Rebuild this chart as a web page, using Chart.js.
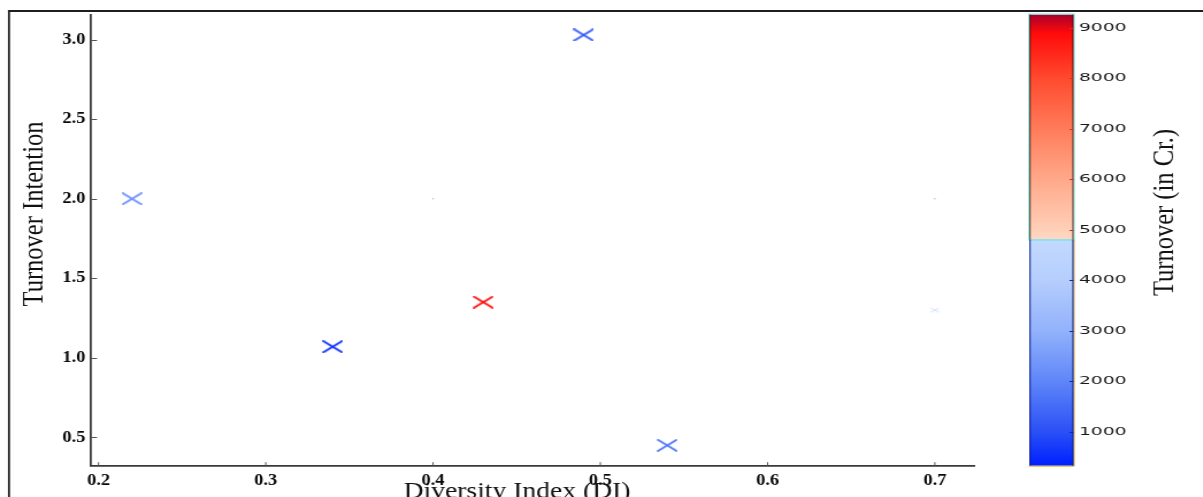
<!DOCTYPE html>
<html>
<head>
<meta charset="utf-8">
<script src="https://cdn.jsdelivr.net/npm/chart.js@4.4.1/dist/chart.umd.min.js"></script>
<style>
  html, body { margin: 0; padding: 0; background: #fff; overflow: hidden; width: 1203px; height: 497px; }
  #wrap { width: 1046px; height: 497px; transform: scaleX(1.15); transform-origin: 0 0; }
  canvas { display: block; }
</style>
</head>
<body>
<div id="wrap"><canvas id="c" width="1046" height="497"></canvas></div>
<script>
// ---- data ----
const diversityIndex    = [0.22, 0.34, 0.43, 0.49, 0.54];
const turnoverIntention = [2.00, 1.07, 1.35, 3.03, 0.45];
const turnoverCr        = [2200, 500, 8900, 1100, 1700];

// faint marker and specks
const faintDI = [0.70];
const faintTI = [1.30];
const faintTurnover = [3800];
const specksDI = [0.40, 0.70];
const specksTI = [2.00, 2.00];

// axis ticks
const xTickValues  = [0.2, 0.3, 0.4, 0.5, 0.6, 0.7];
const yTickValues  = [0.5, 1.0, 1.5, 2.0, 2.5, 3.0];
const cbTickValues = [1000, 2000, 3000, 4000, 5000, 6000, 7000, 8000, 9000];

// colour scale range and the point where it switches from blue to red
const cbMin = 330, cbMax = 9264, cbSplit = 4810;
const colorStops = [
  [330,  '#0020ff'],
  [1000, '#2a50f6'],
  [2000, '#5f86f8'],
  [3000, '#92b2fb'],
  [4000, '#b5cefd'],
  [4810, '#c3daff'],
  [4810, '#ffd8c4'],
  [5000, '#ffd0b8'],
  [6000, '#ffa98a'],
  [7000, '#ff7c5a'],
  [8000, '#ff4a2e'],
  [8900, '#ff0a0a'],
  [9264, '#a8002a']
];

// ---- layout ----
const SX = 1.15;           // horizontal stretch applied to the canvas
const W = 1046, H = 497;
const SERIF = '"Liberation Serif", "Times New Roman", Times, serif';

function hexToRgb(h) {
  const n = parseInt(h.slice(1), 16);
  return [(n >> 16) & 255, (n >> 8) & 255, n & 255];
}
function colorFor(v, alpha) {
  v = Math.max(cbMin, Math.min(cbMax, v));
  const a1 = alpha === undefined ? 1 : alpha;
  for (let i = 0; i < colorStops.length - 1; i++) {
    const [v0, c0] = colorStops[i], [v1, c1] = colorStops[i + 1];
    if (v1 === v0) continue;
    if (v >= v0 && v <= v1) {
      const t = (v - v0) / (v1 - v0);
      const a = hexToRgb(c0), b = hexToRgb(c1);
      const m = a.map((x, k) => Math.round(x + (b[k] - x) * t));
      return `rgba(${m[0]},${m[1]},${m[2]},${a1})`;
    }
  }
  return colorStops[colorStops.length - 1][1];
}

const crossCache = {};
function crossImage(color, w, h, lw) {
  const key = color + w + 'x' + h + lw;
  if (crossCache[key]) return crossCache[key];
  const cv = document.createElement('canvas');
  cv.width = w; cv.height = h;
  const g = cv.getContext('2d');
  g.strokeStyle = color;
  g.lineWidth = lw;
  g.lineCap = 'round';
  g.beginPath();
  g.moveTo(1, 1); g.lineTo(w - 1, h - 1);
  g.moveTo(1, h - 1); g.lineTo(w - 1, 1);
  g.stroke();
  crossCache[key] = cv;
  return cv;
}

const decorations = {
  id: 'decorations',
  afterDraw(chart) {
    const ctx = chart.ctx;
    const a = chart.chartArea;
    const xs = chart.scales.x, ys = chart.scales.y, cb = chart.scales.cb;
    ctx.save();

    // outer frame
    ctx.strokeStyle = '#1e1e1e';
    ctx.lineWidth = 1.8;
    ctx.beginPath(); ctx.moveTo(9 / SX, H); ctx.lineTo(9 / SX, 10); ctx.stroke();
    ctx.lineWidth = 2;
    ctx.beginPath(); ctx.moveTo(8 / SX, 11); ctx.lineTo(W, 11); ctx.stroke();

    // inward tick marks
    ctx.strokeStyle = '#555';
    ctx.lineWidth = 1;
    ys.ticks.forEach(t => {
      const y = Math.round(ys.getPixelForValue(t.value)) + 0.5;
      ctx.beginPath(); ctx.moveTo(a.left, y); ctx.lineTo(a.left + 6 / SX, y); ctx.stroke();
    });
    xs.ticks.forEach(t => {
      const x = xs.getPixelForValue(t.value);
      ctx.beginPath(); ctx.moveTo(x, a.bottom); ctx.lineTo(x, a.bottom - 3.5); ctx.stroke();
    });

    // colour bar
    const x0 = 1029.5 / SX, x1 = 1073.5 / SX;
    const yTop = cb.getPixelForValue(cbMax), yBot = cb.getPixelForValue(cbMin);
    const ySplit = cb.getPixelForValue(cbSplit);
    const grad = ctx.createLinearGradient(0, yBot, 0, yTop);
    colorStops.forEach(([v, c]) => grad.addColorStop((v - cbMin) / (cbMax - cbMin), c));
    ctx.fillStyle = grad;
    ctx.fillRect(x0, yTop, x1 - x0, yBot - yTop);

    // red part outline
    ctx.lineWidth = 1;
    ctx.strokeStyle = '#5ee6dc';
    ctx.strokeRect(x0 - 0.5, yTop - 0.5, x1 - x0 + 1, ySplit - yTop + 1);
    ctx.strokeStyle = 'rgba(60,0,0,0.8)';
    ctx.beginPath();
    ctx.moveTo(x0 + 0.5, yTop); ctx.lineTo(x0 + 0.5, ySplit);
    ctx.moveTo(x1 - 0.5, yTop); ctx.lineTo(x1 - 0.5, ySplit);
    ctx.stroke();
    // blue part outline
    ctx.strokeStyle = '#e0b020';
    ctx.beginPath();
    ctx.moveTo(x1 + 0.5, ySplit); ctx.lineTo(x1 + 0.5, yBot + 0.5); ctx.lineTo(x0 - 0.5, yBot + 0.5);
    ctx.stroke();
    ctx.strokeStyle = '#0a1a90';
    ctx.beginPath();
    ctx.moveTo(x0 + 0.5, ySplit); ctx.lineTo(x0 + 0.5, yBot);
    ctx.moveTo(x1 - 0.5, ySplit); ctx.lineTo(x1 - 0.5, yBot);
    ctx.stroke();

    // colour bar ticks and labels
    cb.ticks.forEach(t => {
      const y = Math.round(cb.getPixelForValue(t.value)) + 0.5;
      ctx.strokeStyle = t.value > cbSplit ? '#d8301a' : '#1028b0';
      ctx.lineWidth = 1;
      ctx.beginPath(); ctx.moveTo(x1 - 4 / SX, y); ctx.lineTo(x1, y); ctx.stroke();
      ctx.save();
      ctx.translate(1079 / SX, y);
      ctx.scale(1.55, 1);
      ctx.fillStyle = '#1a1a1a';
      ctx.font = '10.5px "DejaVu Sans", Verdana, sans-serif';
      ctx.textAlign = 'left';
      ctx.textBaseline = 'middle';
      ctx.fillText(String(t.value), 0, 0);
      ctx.restore();
    });

    // colour bar title
    ctx.save();
    ctx.translate(1173 / SX, 212.5);
    ctx.rotate(-Math.PI / 2);
    ctx.fillStyle = '#111';
    ctx.font = '24.5px ' + SERIF;
    ctx.textAlign = 'center';
    ctx.textBaseline = 'alphabetic';
    ctx.fillText('Turnover (in Cr.)', 0, 0);
    ctx.restore();

    // y axis title
    ctx.save();
    ctx.translate(42 / SX, 214);
    ctx.rotate(-Math.PI / 2);
    ctx.fillStyle = '#111';
    ctx.font = '24.5px ' + SERIF;
    ctx.textAlign = 'center';
    ctx.textBaseline = 'alphabetic';
    ctx.fillText('Turnover Intention', 0, 0);
    ctx.restore();

    // x axis title
    ctx.fillStyle = '#111';
    ctx.font = '24px ' + SERIF;
    ctx.textAlign = 'center';
    ctx.textBaseline = 'alphabetic';
    ctx.fillText('Diversity Index (DI)', 517 / SX, 498);

    ctx.restore();
  }
};

const tickFont = { family: SERIF, size: 16, weight: 'bold' };

new Chart(document.getElementById('c'), {
  type: 'scatter',
  data: {
    datasets: [
      {
        label: 'Companies',
        data: diversityIndex.map((x, i) => ({ x, y: turnoverIntention[i] })),
        pointStyle: ctx => crossImage(colorFor(turnoverCr[ctx.dataIndex]), 18, 13, 1.8),
        pointRadius: 8
      },
      {
        label: 'faint',
        data: faintDI.map((x, i) => ({ x, y: faintTI[i] })),
        pointStyle: ctx => crossImage(colorFor(faintTurnover[ctx.dataIndex], 0.55), 9, 6, 1),
        pointRadius: 4
      },
      {
        label: 'specks',
        data: specksDI.map((x, i) => ({ x, y: specksTI[i] })),
        pointStyle: 'circle',
        pointRadius: 0.8,
        backgroundColor: '#bdbdbd',
        borderWidth: 0
      }
    ]
  },
  options: {
    responsive: false,
    animation: false,
    events: [],
    layout: { padding: { left: 0, top: 13, right: W - 975 / SX, bottom: 0 } },
    plugins: { legend: { display: false }, tooltip: { enabled: false } },
    scales: {
      x: {
        type: 'linear',
        min: 0.1955, max: 0.724,
        afterBuildTicks: s => { s.ticks = xTickValues.map(v => ({ value: v })); },
        afterFit: s => { s.height = H - 465.7; },
        grid: { display: false, drawTicks: false },
        border: { display: true, color: '#3a3a3a', width: 1.8 },
        ticks: {
          padding: 6, color: '#0a0a0a', font: tickFont,
          maxRotation: 0, autoSkip: false,
          callback: v => Number(v).toFixed(1)
        }
      },
      y: {
        type: 'linear',
        min: 0.322, max: 3.158,
        afterBuildTicks: s => { s.ticks = yTickValues.map(v => ({ value: v })); },
        afterFit: s => { s.width = 91 / SX; },
        grid: { display: false, drawTicks: false },
        border: { display: true, color: '#3a3a3a', width: 1.8 },
        ticks: {
          padding: 5, color: '#0a0a0a', font: tickFont, autoSkip: false,
          callback: v => Number(v).toFixed(1)
        }
      },
      cb: {
        type: 'linear',
        axis: 'y',
        position: 'right',
        display: false,
        min: cbMin, max: cbMax,
        afterBuildTicks: s => { s.ticks = cbTickValues.map(v => ({ value: v })); }
      }
    }
  },
  plugins: [decorations]
});
</script>
</body>
</html>
